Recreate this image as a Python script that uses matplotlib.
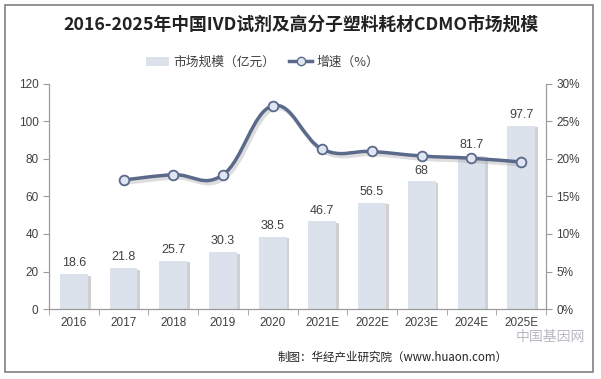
import numpy as np
import matplotlib.pyplot as plt
from matplotlib.path import Path
from matplotlib.patches import PathPatch, Rectangle, Patch
from matplotlib.lines import Line2D
from matplotlib.transforms import offset_copy
import matplotlib.patheffects as pe
from matplotlib.ticker import FuncFormatter, FixedLocator

plt.rcParams['font.family'] = ['Noto Sans CJK SC', 'DejaVu Sans']

# 数据
years = ['2016', '2017', '2018', '2019', '2020', '2021E', '2022E', '2023E', '2024E', '2025E']
market = [18.6, 21.8, 25.7, 30.3, 38.5, 46.7, 56.5, 68, 81.7, 97.7]
growth = [None, 17.2, 17.9, 17.9, 27.1, 21.3, 21.0, 20.4, 20.1, 19.6]

bar_color = '#dce2ec'
line_color = '#5b6a8a'
text_color = '#404040'
axis_color = '#9a9a9a'

fig = plt.figure(figsize=(6.01, 3.79), dpi=100)
ax = fig.add_axes([49 / 601, 1 - 309 / 379, 497 / 601, 225 / 379])
ax2 = ax.twinx()

x = np.arange(len(years))
bars = ax.bar(x, market, width=0.56, color=bar_color, zorder=2,
              path_effects=[pe.SimplePatchShadow(offset=(2, -1), shadow_rgbFace='#8a8a8a', alpha=0.4),
                            pe.Normal()])
for xi, v in zip(x, market):
    ax.text(xi, v + 2.5, f'{v:g}', ha='center', va='bottom', fontsize=9, color=text_color,
            family=['Liberation Sans', 'DejaVu Sans'], zorder=5)

ax.set_xlim(-0.5, len(years) - 0.5)
ax.set_ylim(0, 120)
ax.set_yticks(range(0, 121, 20))
ax.set_xticks(x)
ax.set_xticklabels(years)
ax.xaxis.set_minor_locator(FixedLocator(np.arange(-0.5, len(years), 1)))
ax.tick_params(axis='x', which='major', length=0, pad=6)
ax.tick_params(axis='x', which='minor', length=4, color=axis_color, direction='out')
ax.tick_params(axis='y', length=4, color=axis_color, direction='out')
for lab in ax.get_xticklabels() + ax.get_yticklabels():
    lab.set_family(['Liberation Sans', 'DejaVu Sans'])
    lab.set_fontsize(8.5)
    lab.set_color(text_color)

# 增速曲线（平滑）
gx = [xi for xi, g in zip(x, growth) if g is not None]
gy = [g for g in growth if g is not None]
pts = np.column_stack([gx, gy]).astype(float)
verts = [tuple(pts[0])]
codes = [Path.MOVETO]
t = 0.2
for i in range(len(pts) - 1):
    p0 = pts[i - 1] if i > 0 else pts[i]
    p1 = pts[i]
    p2 = pts[i + 1]
    p3 = pts[i + 2] if i + 2 < len(pts) else pts[i + 1]
    c1 = p1 + (p2 - p0) * t
    c2 = p2 - (p3 - p1) * t
    verts += [tuple(c1), tuple(c2), tuple(p2)]
    codes += [Path.CURVE4] * 3
curve_path = Path(verts, codes)
shadow_tr = offset_copy(ax2.transData, fig=fig, x=1.5, y=-2, units='points')
ax2.add_patch(PathPatch(curve_path, facecolor='none', edgecolor='#a0a0a0', lw=3, alpha=0.35,
                        transform=shadow_tr, zorder=2.5))
ax2.add_patch(PathPatch(curve_path, facecolor='none', edgecolor=line_color, lw=2.5, zorder=3))
ax2.plot(gx, gy, ls='none', marker='o', ms=7, mfc='#dfe5f2', mec=line_color, mew=1.3, zorder=4)

ax2.set_ylim(0, 30)
ax2.set_yticks(range(0, 31, 5))
ax2.yaxis.set_major_formatter(FuncFormatter(lambda v, p: f'{v:.0f}%'))
ax2.tick_params(axis='y', length=4, color=axis_color, direction='out')
for lab in ax2.get_yticklabels():
    lab.set_family(['Liberation Sans', 'DejaVu Sans'])
    lab.set_fontsize(8.5)
    lab.set_color(text_color)

for a in (ax, ax2):
    a.spines['top'].set_visible(False)
    for s in ('left', 'right', 'bottom'):
        a.spines[s].set_color(axis_color)
        a.spines[s].set_linewidth(0.8)
    a.set_facecolor('none')
ax.set_zorder(1)
ax2.set_zorder(2)

# 标题
fig.text(0.5, 1 - 25 / 379, '2016-2025年中国IVD试剂及高分子塑料耗材CDMO市场规模',
         ha='center', va='center', fontsize=12.8, fontweight='bold', color='#222222')

# 图例
handles = [Patch(facecolor=bar_color, edgecolor='none'),
           Line2D([0], [0], color=line_color, lw=2.5, marker='o', ms=6, mfc='#dfe5f2', mec=line_color)]
fig.legend(handles, ['市场规模（亿元）', '增速（%）'], loc='center', bbox_to_anchor=(0.437, 1 - 62 / 379),
           ncol=2, frameon=False, fontsize=9.2, handlelength=1.8, columnspacing=1.1, handletextpad=0.3,
           labelcolor=text_color)

# 来源
fig.text(508 / 601, 1 - 357 / 379, '制图：华经产业研究院（www.huaon.com）', ha='right', va='center',
         fontsize=8.3, color='#222222')
fig.text(585 / 601, 1 - 337 / 379, '中国基因网', ha='right', va='center', fontsize=10,
         color='#9a9aaa', alpha=0.7)

# 外框
fig.patches.append(Rectangle((5 / 601, 1 - 372 / 379), 588 / 601, 367 / 379, transform=fig.transFigure,
                             facecolor='none', edgecolor='#808080', lw=1.2))

fig.savefig('out.png', dpi=100)
